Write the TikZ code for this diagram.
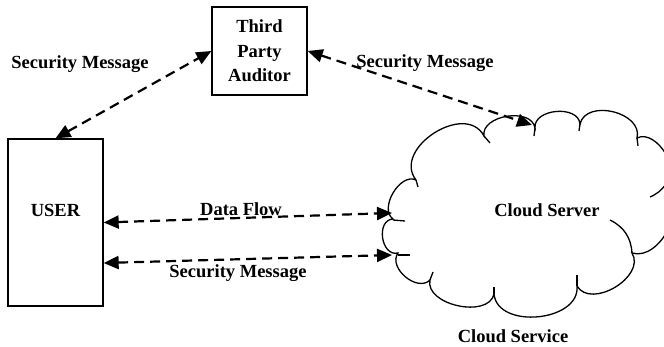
\documentclass[tikz,border=0pt]{standalone}
\usepackage{fontspec}
\setmainfont{Liberation Serif}
\usetikzlibrary{arrows.meta}

\tikzset{
  box/.style={draw, line width=1.3pt, align=center},
  link/.style={line width=2.2pt, dash pattern=on 10pt off 6pt,
    {Triangle[length=15pt,width=13pt]}-{Triangle[length=15pt,width=13pt]}},
  lbl/.style={anchor=base},
  puff/.style={line width=1.3pt}
}

\begin{document}
\begin{tikzpicture}[x=1pt,y=1pt,font=\fontsize{18.5}{24.5}\selectfont\bfseries]
  \useasboundingbox (0,0) rectangle (664,347);
  \clip (0,0) rectangle (664,347);

  % Boxes
  \node[box, minimum width=95pt, minimum height=167pt, text height=13pt, text depth=24pt] (user) at (55.5,124.5) {USER};
  \node[box, minimum width=95pt, minimum height=88pt] (tpa) at (259.5,296) {Third\\Party\\Auditor};

  % Cloud outline
  \foreach \n/\x/\y in {1/416/167, 2/484/211, 3/535/219, 4/580/223, 5/637/209, 6/666/161,
                        7/632/94, 8/577/61, 9/494/53, 10/430/67, 11/398/94, 12/393/128} {
    \coordinate (c\n) at (\x,\y);
  }
  \draw[puff] (c1) \foreach \n/\b/\l in {2/95/1.25, 3/90/1.05, 4/90/1.1, 5/90/1.15, 6/85/1.0, 7/80/1.0,
                                        8/90/1.1, 9/90/1.1, 10/90/1.0, 11/85/1.1, 12/95/1.3, 1/85/1.0} {
    to[bend left=\b, looseness=\l] (c\n)
  };
  % inner strokes of the puffs
  \foreach \ax/\ay/\bx/\by in {484/211/490/204, 535/219/534/211, 580/223/579/216, 637/209/638/201,
                     577/72/577/61, 494/60/494/53, 433/75/430/67, 398/92/410/92,
                     393/127/405/126, 416/167/418/160} {
    \draw[puff] (\ax,\ay) -- (\bx,\by);
  }
  \draw[puff] (666,163) to[bend left=15] (650,150);
  \draw[puff] (610,127) to[bend left=30] (632,94);

  % Arrow ends on the cloud
  \coordinate (cloudtop) at (532,222);
  \coordinate (flowin) at (392,134);
  \coordinate (msgin) at (392,92);

  % Connectors
  \draw[link] (user.north) -- (tpa.west);
  \draw[link] (tpa.east) -- (cloudtop);
  \draw[link] (user.east) -- (flowin);
  \draw[link] (user.east |- 0,84) -- (msgin);

  % Labels
  \node[lbl] (secleft) at (80,278) {Security Message};
  \node[lbl] (secright) at (425,279) {Security Message};
  \node[lbl] (flow) at (241,131) {Data Flow};
  \node[lbl] (seclow) at (238,69) {Security Message};
  \node[lbl] (server) at (547,130) {Cloud Server};
  \node[lbl] (service) at (513,4) {Cloud Service};
\end{tikzpicture}
\end{document}
